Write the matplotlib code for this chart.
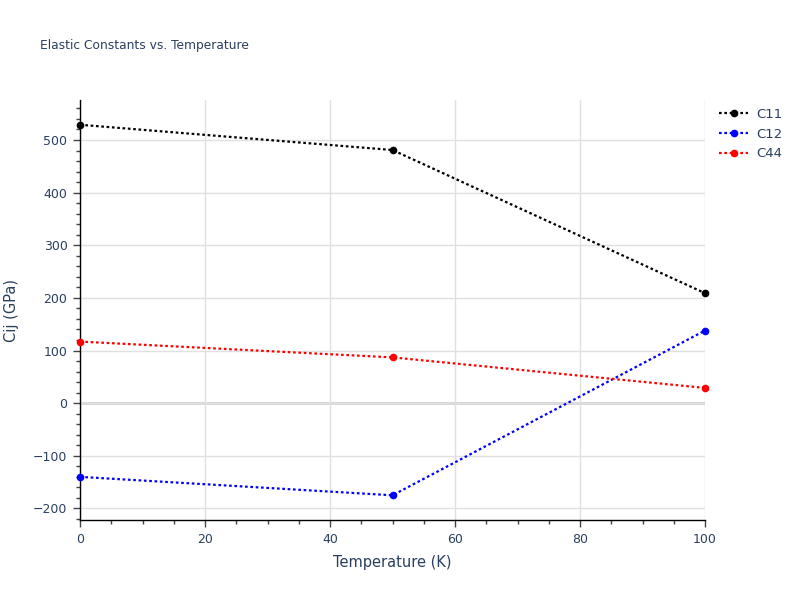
import matplotlib
matplotlib.use("Agg")
import matplotlib.pyplot as plt
from matplotlib.ticker import MultipleLocator

temps = [0, 50, 100]
c11 = [529, 481, 209]
c12 = [-140, -175, 138]
c44 = [117, 87, 29]
series = [("C11", c11, "black"), ("C12", c12, "blue"), ("C44", c44, "red")]

txt = "#2a3f5f"
plt.rcParams['font.family'] = ['DejaVu Sans']

fig = plt.figure(figsize=(8, 6), dpi=100)
ax = fig.add_axes([0.1, 0.1333, 0.78125, 0.7])

for name, vals, col in series:
    ax.plot(temps, vals, linestyle=(0, (1.2, 1.2)), color=col, lw=1.6,
            marker='o', markersize=4.5, label=name, zorder=3, clip_on=False)

ax.set_xlim(0, 100)
ax.set_ylim(-222, 576)
ax.xaxis.set_major_locator(MultipleLocator(20))
ax.xaxis.set_minor_locator(MultipleLocator(5))
ax.yaxis.set_major_locator(MultipleLocator(100))
ax.yaxis.set_minor_locator(MultipleLocator(20))
ax.grid(True, which='major', color='#e0e0e0', lw=1, zorder=0)
ax.axhline(0, color='#d0d0d0', lw=2, zorder=1)

for s in ['top', 'right']:
    ax.spines[s].set_visible(False)
for s in ['left', 'bottom']:
    ax.spines[s].set_color('black')
    ax.spines[s].set_linewidth(1)

ax.tick_params(axis='both', which='major', length=5, width=1, color='#444444',
               labelcolor=txt, labelsize=9, pad=4)
ax.tick_params(axis='both', which='minor', length=3, width=1, color='#444444')

ax.set_xlabel("Temperature (K)", color=txt, fontsize=10.5, labelpad=7)
ax.set_ylabel("Cij (GPa)", color=txt, fontsize=10.5, labelpad=10)

fig.text(0.05, 1 - 45/600, "Elastic Constants vs. Temperature", color=txt,
         fontsize=8.8, va='center', ha='left')

leg = ax.legend(loc='upper left', bbox_to_anchor=(1.01, 1.0), frameon=False,
                fontsize=9.5, labelcolor=txt, handlelength=2.2, handletextpad=0.6,
                borderaxespad=0.2, labelspacing=0.5)

fig.savefig("out.png", dpi=100)
